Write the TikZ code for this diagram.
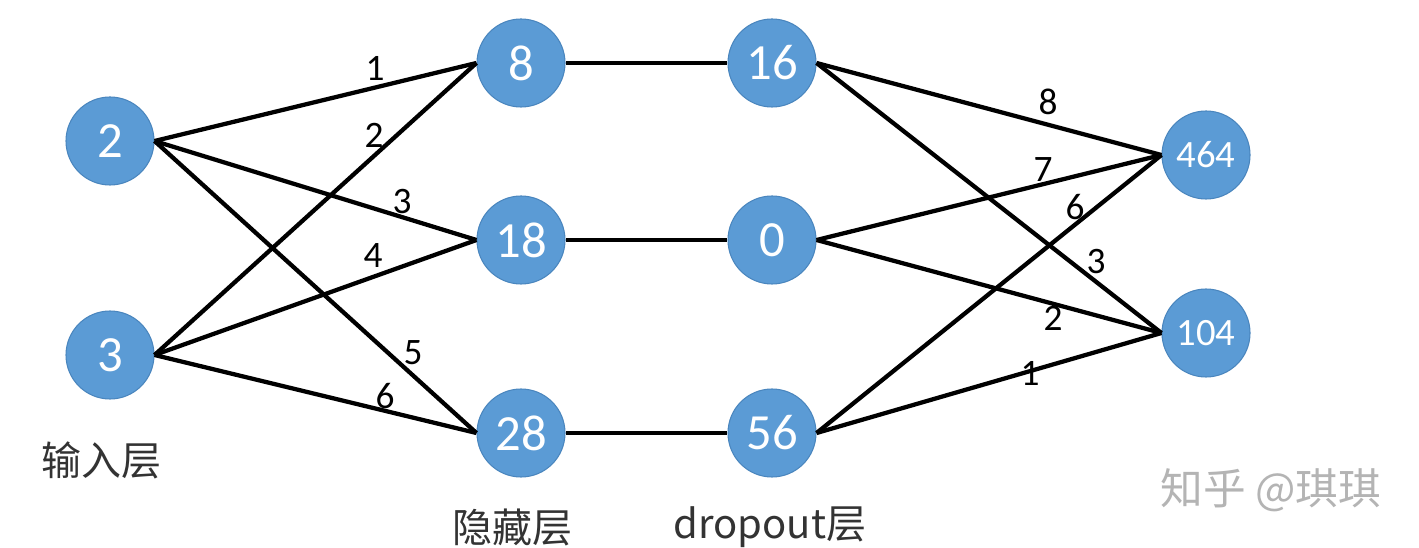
\documentclass[tikz,border=0pt]{standalone}
\usepackage{fontspec}
\setmainfont{Carlito}
\newfontfamily\cjk{Noto Sans CJK SC}
\definecolor{nodeblue}{HTML}{5B9BD5}
\definecolor{nodeedge}{HTML}{4A86BE}
\definecolor{labelgray}{HTML}{333333}
\definecolor{wmgray}{HTML}{B4B4B4}
\begin{document}
\begin{tikzpicture}[x=0.75pt,y=-0.75pt,
  neuron/.style={circle,fill=nodeblue,draw=nodeedge,line width=0.8pt,minimum size=66pt,inner sep=0pt,text=white,font=\fontsize{38}{40}\selectfont},
  bigneuron/.style={neuron,font=\fontsize{29}{31}\selectfont},
  conn/.style={line width=3.2pt,black},
  wlabel/.style={font=\fontsize{28}{30}\selectfont,text=black,inner sep=0pt},
  layerlabel/.style={font=\fontsize{30}{32}\selectfont\cjk,text=labelgray,inner sep=0pt}]
\useasboundingbox (0,0) rectangle (1419,548);
\fill[white] (0,0) rectangle (1419,548);
% nodes
\node[neuron] (n2) at (110,141) {2};
\node[neuron] (n3) at (110,355) {3};
\node[neuron] (n8) at (521,63) {8};
\node[neuron] (n18) at (521,240) {18};
\node[neuron] (n28) at (521,433) {28};
\node[neuron] (n16) at (772,63) {16};
\node[neuron] (n0) at (772,240) {0};
\node[neuron] (n56) at (772,433) {56};
\node[bigneuron] (n464) at (1206,155) {464};
\node[bigneuron] (n104) at (1206,333) {104};
% connectors
\draw[conn] (n2.east) -- (n8.west);
\draw[conn] (n3.east) -- (n8.west);
\draw[conn] (n2.east) -- (n18.west);
\draw[conn] (n3.east) -- (n18.west);
\draw[conn] (n2.east) -- (n28.west);
\draw[conn] (n3.east) -- (n28.west);
\draw[conn] (n8.east) -- (n16.west);
\draw[conn] (n18.east) -- (n0.west);
\draw[conn] (n28.east) -- (n56.west);
\draw[conn] (n16.east) -- (n464.west);
\draw[conn] (n0.east) -- (n464.west);
\draw[conn] (n56.east) -- (n464.west);
\draw[conn] (n16.east) -- (n104.west);
\draw[conn] (n0.east) -- (n104.west);
\draw[conn] (n56.east) -- (n104.west);
% weight labels
\node[wlabel] (w1) at (375,68) {1};
\node[wlabel] (w2) at (374,135) {2};
\node[wlabel] (w3) at (402,202) {3};
\node[wlabel] (w4) at (373,256) {4};
\node[wlabel] (w5) at (413,353) {5};
\node[wlabel] (w6) at (385,396) {6};
\node[wlabel] (v8) at (1048,102) {8};
\node[wlabel] (v7) at (1043,170) {7};
\node[wlabel] (v6) at (1075,207) {6};
\node[wlabel] (v3) at (1096,262) {3};
\node[wlabel] (v2) at (1053,318) {2};
\node[wlabel] (v1) at (1030,373) {1};
% layer labels
\node[layerlabel] (lin) at (101,460) {输入层};
\node[layerlabel] (lhid) at (512,527) {隐藏层};
\node[layerlabel] (ldrop) at (770,527) {dropout层};
% watermark
\node[font=\fontsize{32}{34}\selectfont\cjk,text=wmgray,inner sep=0pt] (wm) at (1271,490) {知乎 @琪琪};
\end{tikzpicture}
\end{document}
